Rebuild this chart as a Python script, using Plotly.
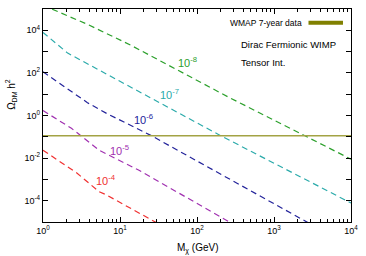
import math
import plotly.graph_objects as go

# ---- data (mass in GeV, relic density Omega h^2) ----
mass_1e8 = [1.0, 3.78, 13.8, 251.0, 10000.0]
omega_1e8 = [1.5e5, 1.9e4, 2.0e3, 7.6, 8.9e-3]

mass_1e7 = [1.0, 2.09, 204.0, 10000.0]
omega_1e7 = [7.9e3, 8.5e2, 0.112, 7.8e-5]

mass_1e6 = [1.0, 1.80, 3.78, 6.76, 25.1, 3981.0]
omega_1e6 = [112.0, 25.0, 4.0, 1.23, 0.117, 4.5e-6]

mass_1e5 = [1.0, 2.34, 5.37, 17.4, 398.0]
omega_1e5 = [1.7, 0.25, 0.0234, 2.75e-3, 4.3e-6]

mass_1e4 = [1.0, 2.75, 5.37, 6.61, 39.8]
omega_1e4 = [0.0234, 2.0e-3, 2.63e-4, 1.9e-4, 5.2e-6]

wmap_mass = [1.0, 10000.0]
wmap_omega = [0.1123, 0.1123]

curve_labels = ["10<sup>-8</sup>", "10<sup>-7</sup>", "10<sup>-6</sup>", "10<sup>-5</sup>", "10<sup>-4</sup>"]
label_mass = [76.0, 44.0, 20.4, 9.8, 6.6]
label_omega = [330.0, 10.0, 0.65, 0.0234, 9.5e-4]

x_tickvals = [1, 10, 100, 1000, 10000]
x_ticktext = ["10<sup>0</sup>", "10<sup>1</sup>", "10<sup>2</sup>", "10<sup>3</sup>", "10<sup>4</sup>"]
y_tickvals = [10.0 ** k for k in range(-5, 6)]
y_ticktext = ["" if k % 2 else "10<sup>%d</sup>" % k for k in range(-5, 6)]

colors = ["#2ca02c", "#2aaaaa", "#22229a", "#a030b0", "#f03030"]
series = [(mass_1e8, omega_1e8), (mass_1e7, omega_1e7), (mass_1e6, omega_1e6),
          (mass_1e5, omega_1e5), (mass_1e4, omega_1e4)]

FONT = "Liberation Sans, Arial, sans-serif"

fig = go.Figure()
for (m, o), c in zip(series, colors):
    fig.add_trace(go.Scatter(x=m, y=o, mode="lines",
                             line=dict(color=c, width=1.2, dash="6px,4px"),
                             showlegend=False, hoverinfo="skip"))

fig.add_trace(go.Scatter(x=wmap_mass, y=wmap_omega, mode="lines",
                         line=dict(color="#a3a344", width=1.6),
                         showlegend=False, hoverinfo="skip"))

# annotations on log axes take log10 positions
for t, xm, yo, c in zip(curve_labels, label_mass, label_omega, colors):
    fig.add_annotation(x=math.log10(xm), y=math.log10(yo), xref="x", yref="y",
                       text=t, showarrow=False,
                       font=dict(color=c, size=11, family=FONT),
                       xanchor="center", yanchor="middle")

# legend (text left, key right)
fig.add_annotation(x=0.848, y=0.935, xref="paper", yref="paper",
                   text="WMAP 7-year data", showarrow=False,
                   xanchor="right", yanchor="middle",
                   font=dict(size=8.5, family=FONT, color="black"))
fig.add_shape(type="line", xref="paper", yref="paper",
              x0=0.862, x1=0.974, y0=0.935, y1=0.935,
              line=dict(color="#808000", width=4))

fig.add_annotation(x=0.635, y=0.835, xref="paper", yref="paper",
                   text="Dirac Fermionic WIMP", showarrow=False,
                   xanchor="left", yanchor="middle",
                   font=dict(size=9.5, family=FONT, color="black"))
fig.add_annotation(x=0.635, y=0.75, xref="paper", yref="paper",
                   text="Tensor Int.", showarrow=False,
                   xanchor="left", yanchor="middle",
                   font=dict(size=9.5, family=FONT, color="black"))

# axis titles
fig.add_annotation(x=0.5, y=-0.085, xref="paper", yref="paper",
                   text="M<sub>χ</sub> (GeV)", showarrow=False,
                   xanchor="center", yanchor="top",
                   font=dict(size=10, family=FONT, color="black"))
fig.add_annotation(x=-0.105, y=0.6, xref="paper", yref="paper",
                   text="Ω<sub>DM</sub> h<sup>2</sup>", showarrow=False,
                   textangle=-90, xanchor="center", yanchor="middle",
                   font=dict(size=10, family=FONT, color="black"))

axis_common = dict(showline=True, linecolor="black", linewidth=1.2, mirror="allticks",
                   ticks="inside", ticklen=5, tickcolor="black", tickwidth=1,
                   showgrid=False, zeroline=False,
                   tickfont=dict(size=9, family=FONT, color="black"))

fig.update_xaxes(type="log", range=[0, 4], tickvals=x_tickvals, ticktext=x_ticktext,
                 minor=dict(ticks="inside", ticklen=2.5, tickcolor="black", dtick="D1", showgrid=False),
                 **axis_common)
fig.update_yaxes(type="log", range=[-5, 5], tickvals=y_tickvals, ticktext=y_ticktext,
                 **axis_common)

fig.update_layout(width=366, height=256, margin=dict(l=43, r=11, t=8, b=34),
                  plot_bgcolor="white", paper_bgcolor="white",
                  font=dict(family=FONT))

fig.write_html("out.html", config={"displayModeBar": False},
               post_script="document.body.style.margin='0px';document.body.style.overflow='hidden';")
